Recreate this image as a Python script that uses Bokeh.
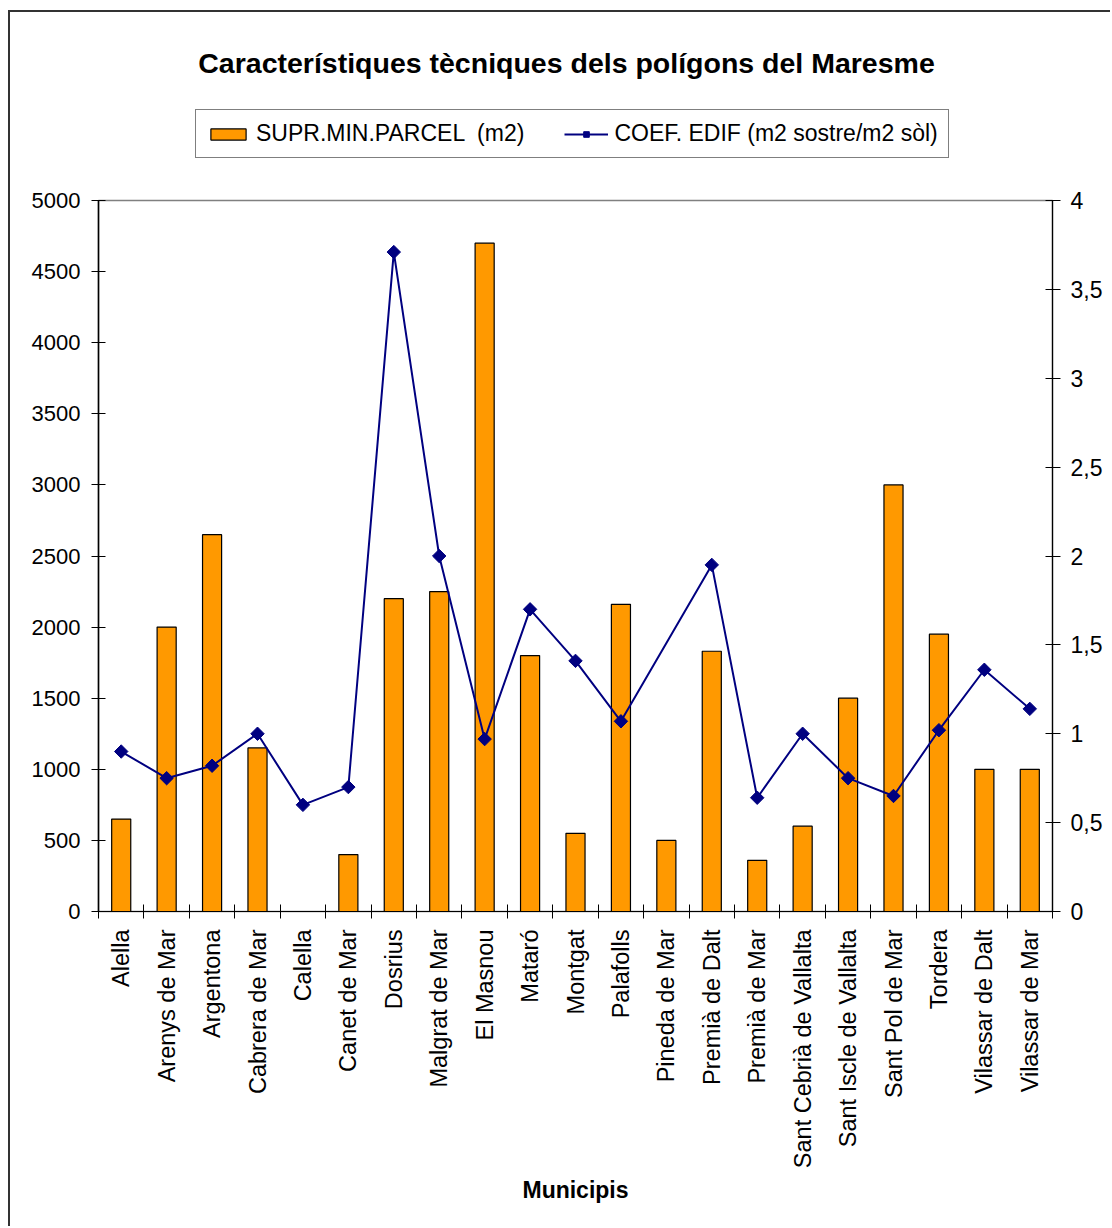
import numpy as np
from bokeh.plotting import figure
from bokeh.layouts import column
from bokeh.models import Range1d, LinearAxis, FixedTicker, Legend, LegendItem, Label
from bokeh.embed import file_html
from bokeh.resources import INLINE

municipis = ["Alella", "Arenys de Mar", "Argentona", "Cabrera de Mar", "Calella",
             "Canet de Mar", "Dosrius", "Malgrat de Mar", "El Masnou", "Mataró",
             "Montgat", "Palafolls", "Pineda de Mar", "Premià de Dalt", "Premià de Mar",
             "Sant Cebrià de Vallalta", "Sant Iscle de Vallalta", "Sant Pol de Mar",
             "Tordera", "Vilassar de Dalt", "Vilassar de Mar"]
supr_min_parcel = [650, 2000, 2650, 1150, 0, 400, 2200, 2250, 4700, 1800, 550, 2160,
                   500, 1830, 360, 600, 1500, 3000, 1950, 1000, 1000]
coef_edif = [0.90, 0.75, 0.82, 1.00, 0.60, 0.70, 3.71, 2.00, 0.97, 1.70, 1.41, 1.07,
             None, 1.95, 0.64, 1.00, 0.75, 0.65, 1.02, 1.36, 1.14]
left_ticks = [0, 500, 1000, 1500, 2000, 2500, 3000, 3500, 4000, 4500, 5000]
right_ticks = [0, 0.5, 1, 1.5, 2, 2.5, 3, 3.5, 4]
right_tick_labels = ["0", "0,5", "1", "1,5", "2", "2,5", "3", "3,5", "4"]
title_text = "Característiques tècniques dels polígons del Maresme"
label_bars = "SUPR.MIN.PARCEL  (m2)"
label_line = "COEF. EDIF (m2 sostre/m2 sòl)"

FONT = "Liberation Sans"
ORANGE = "#FF9900"
NAVY = "#000080"
W = 1100
TOP_H = 176
FRAME_W = 954
n = len(municipis)
centers = [i + 0.5 for i in range(n)]
bounds = [float(i) for i in range(n + 1)]

# ---------- header (title + legend); its frame is aligned with the chart frame ----------
ph = figure(width=W, height=TOP_H, output_backend="svg", toolbar_location=None,
            x_range=Range1d(0, FRAME_W), y_range=Range1d(0, TOP_H),
            x_axis_location=None, y_axis_location=None,
            min_border_left=88, min_border_right=58, min_border_top=0, min_border_bottom=0)
ph.xgrid.visible = False
ph.ygrid.visible = False
ph.outline_line_color = None
ph.background_fill_color = "white"
ph.border_fill_color = "white"

ph.add_layout(Label(x=468, y=TOP_H - 50, text=title_text, text_align="center",
                    text_baseline="middle", text_font=FONT, text_font_size="28.5px",
                    text_font_style="bold", text_color="black"))

# legend proxies (single point placed far outside the visible header range)
lg_bar = ph.vbar(x=[-5000], top=[-5000], bottom=-5001, width=1,
                 fill_color=ORANGE, line_color="black", line_width=1.2)
lg_line = ph.line(x=[-5000, -4999], y=[-5000, -5000], line_color=NAVY, line_width=2)
lg_mark = ph.scatter(x=[-5000], y=[-5000], marker="square", angle=np.pi / 4, size=9,
                     fill_color=NAVY, line_color=NAVY)

legend = Legend(items=[LegendItem(label=label_bars, renderers=[lg_bar]),
                       LegendItem(label=label_line, renderers=[lg_line, lg_mark])],
                location=(97, 30), orientation="horizontal",
                border_line_color="black", border_line_width=1.2,
                background_fill_color="white", background_fill_alpha=1,
                padding=10, spacing=40, label_standoff=6,
                glyph_width=44, glyph_height=14,
                label_text_font=FONT, label_text_font_size="23px",
                label_text_color="black", margin=0)
ph.add_layout(legend, "center")

# ---------- main chart ----------
p = figure(width=W, height=1214 - TOP_H, output_backend="svg", toolbar_location=None,
           x_range=Range1d(0, n), y_range=Range1d(0, 5000),
           min_border_left=88, min_border_right=58, min_border_top=12, min_border_bottom=315)
p.extra_y_ranges = {"coef": Range1d(0, 4)}
p.xgrid.visible = False
p.ygrid.visible = False
p.outline_line_color = "#808080"
p.outline_line_width = 1.5
p.background_fill_color = "white"
p.border_fill_color = "white"

bars = p.vbar(x=centers, top=supr_min_parcel, bottom=0, width=0.42,
              fill_color=ORANGE, line_color="black", line_width=1.2)

lx = [c for c, v in zip(centers, coef_edif) if v is not None]
ly = [v for v in coef_edif if v is not None]
ln = p.line(x=lx, y=ly, line_color=NAVY, line_width=2, y_range_name="coef")
mk = p.scatter(x=lx, y=ly, marker="square", angle=np.pi / 4, size=9.5,
               fill_color=NAVY, line_color=NAVY, y_range_name="coef")

xa = p.xaxis[0]
xa.ticker = FixedTicker(ticks=centers, minor_ticks=bounds)
xa.major_label_overrides = {c: m for c, m in zip(centers, municipis)}
xa.major_label_orientation = np.pi / 2
xa.major_tick_in = 0
xa.major_tick_out = 0
xa.minor_tick_in = 7
xa.minor_tick_out = 7
xa.minor_tick_line_color = "black"
xa.axis_line_color = "black"
xa.major_label_text_font = FONT
xa.major_label_text_font_size = "23.5px"
xa.major_label_text_color = "black"
xa.major_label_standoff = 11
xa.axis_label = "Municipis"
xa.axis_label_text_font = FONT
xa.axis_label_text_font_size = "23px"
xa.axis_label_text_font_style = "bold"
xa.axis_label_text_color = "black"
xa.axis_label_standoff = 6

ya = p.yaxis[0]
ya.ticker = FixedTicker(ticks=left_ticks)
ya.minor_tick_line_color = None
ya.major_tick_in = 7
ya.major_tick_out = 7
ya.axis_line_color = "black"
ya.axis_line_width = 1.5
ya.major_tick_line_color = "black"
ya.major_label_text_font = FONT
ya.major_label_text_font_size = "22px"
ya.major_label_text_color = "black"
ya.major_label_standoff = 11

ra = LinearAxis(y_range_name="coef", ticker=FixedTicker(ticks=right_ticks))
ra.major_label_overrides = {t: s for t, s in zip(right_ticks, right_tick_labels)}
ra.minor_tick_line_color = None
ra.major_tick_in = 7
ra.major_tick_out = 8
ra.axis_line_color = "black"
ra.axis_line_width = 1.2
ra.major_tick_line_color = "black"
ra.major_label_text_font = FONT
ra.major_label_text_font_size = "23px"
ra.major_label_text_color = "black"
ra.major_label_standoff = 10
p.add_layout(ra, "right")

layout = column(ph, p, spacing=0)
layout.styles = {"margin-left": "8px", "margin-top": "10px",
                 "border-left": "2px solid #333333", "border-top": "2px solid #333333"}

open("out.html", "w").write(file_html(layout, INLINE))
